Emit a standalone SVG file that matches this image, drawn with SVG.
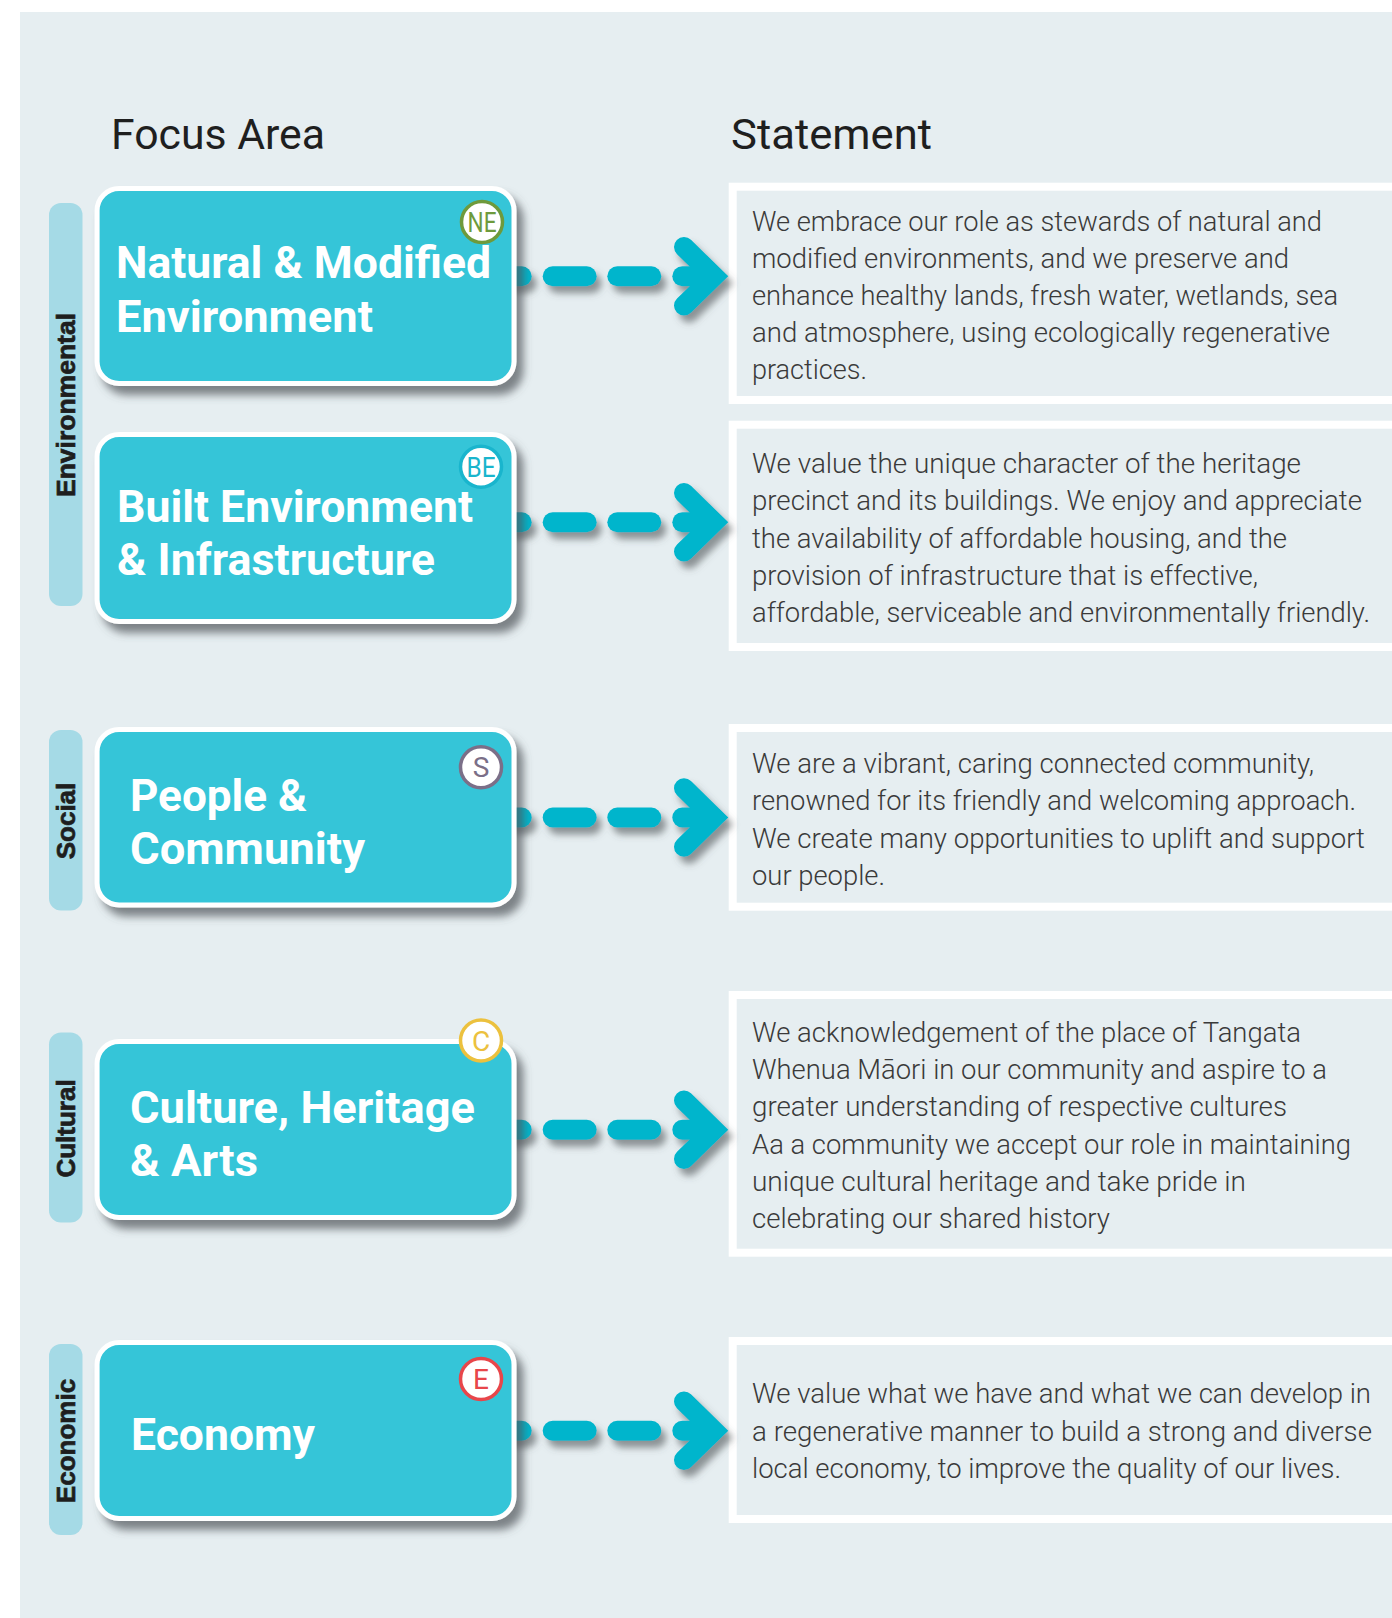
<svg xmlns="http://www.w3.org/2000/svg" width="1392" height="1618" viewBox="0 0 1392 1618">
  <defs>
    <filter id="nodeShadow" x="-10%" y="-10%" width="130%" height="135%">
      <feDropShadow dx="7" dy="9" stdDeviation="4.5" flood-color="#4f5559" flood-opacity="0.7"/>
    </filter>
    <filter id="arrowShadow" x="-10%" y="-30%" width="130%" height="180%">
      <feDropShadow dx="5" dy="7" stdDeviation="3.5" flood-color="#4f5559" flood-opacity="0.6"/>
    </filter>
    <style>
      .panel { fill: #e6eef1; }
      .pill { fill: #a5dae6; }
      .pillText { font-family: "Liberation Sans", Arial, sans-serif; font-weight: 700; font-size: 26px; fill: #1e1e1e; stroke: #1e1e1e; stroke-width: 0.7; text-anchor: middle; }
      .header { font-family: Roboto, "Liberation Sans", sans-serif; font-size: 43px; fill: #1f1f1f; }
      .node { fill: #35c5d8; stroke: #ffffff; stroke-width: 5; }
      .nodeText { font-family: Roboto, "Liberation Sans", sans-serif; font-weight: 700; font-size: 44px; fill: #ffffff; }
      .badge { fill: #ffffff; stroke-width: 3.5; }
      .badgeText { font-family: Roboto, "Liberation Sans", sans-serif; font-size: 28px; text-anchor: middle; }
      .stmt { fill: #e6eef1; stroke: #ffffff; stroke-width: 8; }
      .stmtText { font-family: Roboto, "Liberation Sans", sans-serif; font-weight: 300; font-size: 28px; fill: #3a3a3a; }
      .dash { stroke: #03b5cc; stroke-width: 20; stroke-linecap: round; fill: none; }
      .head { stroke: #03b5cc; stroke-width: 20; stroke-linecap: round; stroke-linejoin: miter; stroke-miterlimit: 10; fill: none; }
    </style>
  </defs>

  <rect x="0" y="0" width="1392" height="1618" fill="#ffffff"/>
  <rect class="panel" x="20" y="12" width="1372" height="1606"/>

  <text class="header" x="111" y="149" textLength="214" lengthAdjust="spacingAndGlyphs">Focus Area</text>
  <text class="header" x="731" y="149" textLength="201" lengthAdjust="spacingAndGlyphs">Statement</text>

  <!-- Category pills -->
  <g id="cat-environmental">
    <rect class="pill" x="49" y="203" width="33.5" height="403" rx="12"/>
    <text class="pillText" transform="translate(75,405) rotate(-90)" textLength="184" lengthAdjust="spacingAndGlyphs">Environmental</text>
  </g>
  <g id="cat-social">
    <rect class="pill" x="49" y="730" width="33.5" height="180.5" rx="12"/>
    <text class="pillText" transform="translate(75,821) rotate(-90)">Social</text>
  </g>
  <g id="cat-cultural">
    <rect class="pill" x="49" y="1032.5" width="33.5" height="190" rx="12"/>
    <text class="pillText" transform="translate(75,1128.5) rotate(-90)">Cultural</text>
  </g>
  <g id="cat-economic">
    <rect class="pill" x="49" y="1344" width="33.5" height="191" rx="12"/>
    <text class="pillText" transform="translate(75,1441) rotate(-90)">Economic</text>
  </g>

  <!-- Statement boxes -->
  <g id="stmt-natural">
    <rect class="stmt" x="732.7" y="186.7" width="700" height="213.3"/>
    <text class="stmtText" x="752" y="230.5" textLength="570" lengthAdjust="spacingAndGlyphs">We embrace our role as stewards of natural and</text>
    <text class="stmtText" x="752" y="267.5" textLength="537" lengthAdjust="spacingAndGlyphs">modified environments, and we preserve and</text>
    <text class="stmtText" x="752" y="305" textLength="586" lengthAdjust="spacingAndGlyphs">enhance healthy lands, fresh water, wetlands, sea</text>
    <text class="stmtText" x="752" y="342" textLength="578" lengthAdjust="spacingAndGlyphs">and atmosphere, using ecologically regenerative</text>
    <text class="stmtText" x="752" y="379" textLength="115" lengthAdjust="spacingAndGlyphs">practices.</text>
  </g>
  <g id="stmt-built">
    <rect class="stmt" x="732.7" y="424.7" width="700" height="222.3"/>
    <text class="stmtText" x="752" y="472.5" textLength="549" lengthAdjust="spacingAndGlyphs">We value the unique character of the heritage</text>
    <text class="stmtText" x="752" y="510" textLength="610" lengthAdjust="spacingAndGlyphs">precinct and its buildings. We enjoy and appreciate</text>
    <text class="stmtText" x="752" y="547.5" textLength="535" lengthAdjust="spacingAndGlyphs">the availability of affordable housing, and the</text>
    <text class="stmtText" x="752" y="584.5" textLength="506" lengthAdjust="spacingAndGlyphs">provision of infrastructure that is effective,</text>
    <text class="stmtText" x="752" y="621.5" textLength="618" lengthAdjust="spacingAndGlyphs">affordable, serviceable and environmentally friendly.</text>
  </g>
  <g id="stmt-people">
    <rect class="stmt" x="732.7" y="728" width="700" height="178.7"/>
    <text class="stmtText" x="752" y="772.5" textLength="562" lengthAdjust="spacingAndGlyphs">We are a vibrant, caring connected community,</text>
    <text class="stmtText" x="752" y="810" textLength="604" lengthAdjust="spacingAndGlyphs">renowned for its friendly and welcoming approach.</text>
    <text class="stmtText" x="752" y="847.5" textLength="613" lengthAdjust="spacingAndGlyphs">We create many opportunities to uplift and support</text>
    <text class="stmtText" x="752" y="885" textLength="133" lengthAdjust="spacingAndGlyphs">our people.</text>
  </g>
  <g id="stmt-culture">
    <rect class="stmt" x="732.7" y="995" width="700" height="257.7"/>
    <text class="stmtText" x="752" y="1042" textLength="549" lengthAdjust="spacingAndGlyphs">We acknowledgement of the place of Tangata</text>
    <text class="stmtText" x="752" y="1079" textLength="575" lengthAdjust="spacingAndGlyphs">Whenua Māori in our community and aspire to a</text>
    <text class="stmtText" x="752" y="1116" textLength="535" lengthAdjust="spacingAndGlyphs">greater understanding of respective cultures</text>
    <text class="stmtText" x="752" y="1154" textLength="599" lengthAdjust="spacingAndGlyphs">Aa a community we accept our role in maintaining</text>
    <text class="stmtText" x="752" y="1191" textLength="494" lengthAdjust="spacingAndGlyphs">unique cultural heritage and take pride in</text>
    <text class="stmtText" x="752" y="1228" textLength="358" lengthAdjust="spacingAndGlyphs">celebrating our shared history</text>
  </g>
  <g id="stmt-economy">
    <rect class="stmt" x="732.7" y="1341" width="700" height="178"/>
    <text class="stmtText" x="752" y="1403" textLength="619" lengthAdjust="spacingAndGlyphs">We value what we have and what we can develop in</text>
    <text class="stmtText" x="752" y="1440.5" textLength="620" lengthAdjust="spacingAndGlyphs">a regenerative manner to build a strong and diverse</text>
    <text class="stmtText" x="752" y="1478" textLength="589" lengthAdjust="spacingAndGlyphs">local economy, to improve the quality of our lives.</text>
  </g>

  <!-- Connectors -->
  <g id="connectors">
    <g filter="url(#arrowShadow)">
      <line class="dash" x1="508" y1="276.3" x2="521.7" y2="276.3"/>
      <line class="dash" x1="552.7" y1="276.3" x2="586.7" y2="276.3"/>
      <line class="dash" x1="617.3" y1="276.3" x2="651.3" y2="276.3"/>
      <line class="dash" x1="682.3" y1="276.3" x2="700" y2="276.3"/>
      <polyline class="head" points="684,247 714,276.3 684,305.6"/>
    </g>
    <g filter="url(#arrowShadow)">
      <line class="dash" x1="508" y1="522.3" x2="521.7" y2="522.3"/>
      <line class="dash" x1="552.7" y1="522.3" x2="586.7" y2="522.3"/>
      <line class="dash" x1="617.3" y1="522.3" x2="651.3" y2="522.3"/>
      <line class="dash" x1="682.3" y1="522.3" x2="700" y2="522.3"/>
      <polyline class="head" points="684,493 714,522.3 684,551.6"/>
    </g>
    <g filter="url(#arrowShadow)">
      <line class="dash" x1="508" y1="817.5" x2="521.7" y2="817.5"/>
      <line class="dash" x1="552.7" y1="817.5" x2="586.7" y2="817.5"/>
      <line class="dash" x1="617.3" y1="817.5" x2="651.3" y2="817.5"/>
      <line class="dash" x1="682.3" y1="817.5" x2="700" y2="817.5"/>
      <polyline class="head" points="684,788.2 714,817.5 684,846.8"/>
    </g>
    <g filter="url(#arrowShadow)">
      <line class="dash" x1="508" y1="1129.7" x2="521.7" y2="1129.7"/>
      <line class="dash" x1="552.7" y1="1129.7" x2="586.7" y2="1129.7"/>
      <line class="dash" x1="617.3" y1="1129.7" x2="651.3" y2="1129.7"/>
      <line class="dash" x1="682.3" y1="1129.7" x2="700" y2="1129.7"/>
      <polyline class="head" points="684,1100.4 714,1129.7 684,1159"/>
    </g>
    <g filter="url(#arrowShadow)">
      <line class="dash" x1="508" y1="1430.7" x2="521.7" y2="1430.7"/>
      <line class="dash" x1="552.7" y1="1430.7" x2="586.7" y2="1430.7"/>
      <line class="dash" x1="617.3" y1="1430.7" x2="651.3" y2="1430.7"/>
      <line class="dash" x1="682.3" y1="1430.7" x2="700" y2="1430.7"/>
      <polyline class="head" points="684,1401.4 714,1430.7 684,1460"/>
    </g>
  </g>

  <!-- Focus area nodes -->
  <g id="node-natural">
    <rect class="node" x="97.1" y="188.5" width="416.9" height="195" rx="22" filter="url(#nodeShadow)"/>
    <text class="nodeText" x="116" y="278" textLength="375" lengthAdjust="spacingAndGlyphs">Natural &amp; Modified</text>
    <text class="nodeText" x="116" y="332" textLength="257" lengthAdjust="spacingAndGlyphs">Environment</text>
    <circle class="badge" cx="482" cy="222" r="20.5" stroke="#6e9a3c"/>
    <text class="badgeText" x="482" y="232" fill="#6e9a3c" textLength="29" lengthAdjust="spacingAndGlyphs">NE</text>
  </g>
  <g id="node-built">
    <rect class="node" x="97.1" y="434.5" width="416.9" height="187" rx="22" filter="url(#nodeShadow)"/>
    <text class="nodeText" x="117" y="521.5" textLength="356" lengthAdjust="spacingAndGlyphs">Built Environment</text>
    <text class="nodeText" x="117" y="574.5" textLength="318" lengthAdjust="spacingAndGlyphs">&amp; Infrastructure</text>
    <circle class="badge" cx="481" cy="466.7" r="20.5" stroke="#19b5cd"/>
    <text class="badgeText" x="481" y="476.7" fill="#19b5cd" textLength="29" lengthAdjust="spacingAndGlyphs">BE</text>
  </g>
  <g id="node-people">
    <rect class="node" x="97.1" y="729.5" width="416.9" height="175.5" rx="22" filter="url(#nodeShadow)"/>
    <text class="nodeText" x="130" y="811" textLength="177" lengthAdjust="spacingAndGlyphs">People &amp;</text>
    <text class="nodeText" x="130" y="864" textLength="235" lengthAdjust="spacingAndGlyphs">Community</text>
    <circle class="badge" cx="481" cy="767.3" r="20.5" stroke="#7b6f88"/>
    <text class="badgeText" x="481" y="777.3" fill="#7b6f88">S</text>
  </g>
  <g id="node-culture">
    <rect class="node" x="97.1" y="1041.5" width="416.9" height="176" rx="22" filter="url(#nodeShadow)"/>
    <text class="nodeText" x="130" y="1123" textLength="345" lengthAdjust="spacingAndGlyphs">Culture, Heritage</text>
    <text class="nodeText" x="130" y="1176" textLength="128" lengthAdjust="spacingAndGlyphs">&amp; Arts</text>
    <circle class="badge" cx="481" cy="1040.5" r="20.5" stroke="#ecc13e"/>
    <text class="badgeText" x="481" y="1050.5" fill="#ecc13e">C</text>
  </g>
  <g id="node-economy">
    <rect class="node" x="97.1" y="1342.5" width="416.9" height="176" rx="22" filter="url(#nodeShadow)"/>
    <text class="nodeText" x="131" y="1450" textLength="184" lengthAdjust="spacingAndGlyphs">Economy</text>
    <circle class="badge" cx="481" cy="1379" r="20.5" stroke="#e8464a"/>
    <text class="badgeText" x="481" y="1389" fill="#e8464a">E</text>
  </g>
</svg>
